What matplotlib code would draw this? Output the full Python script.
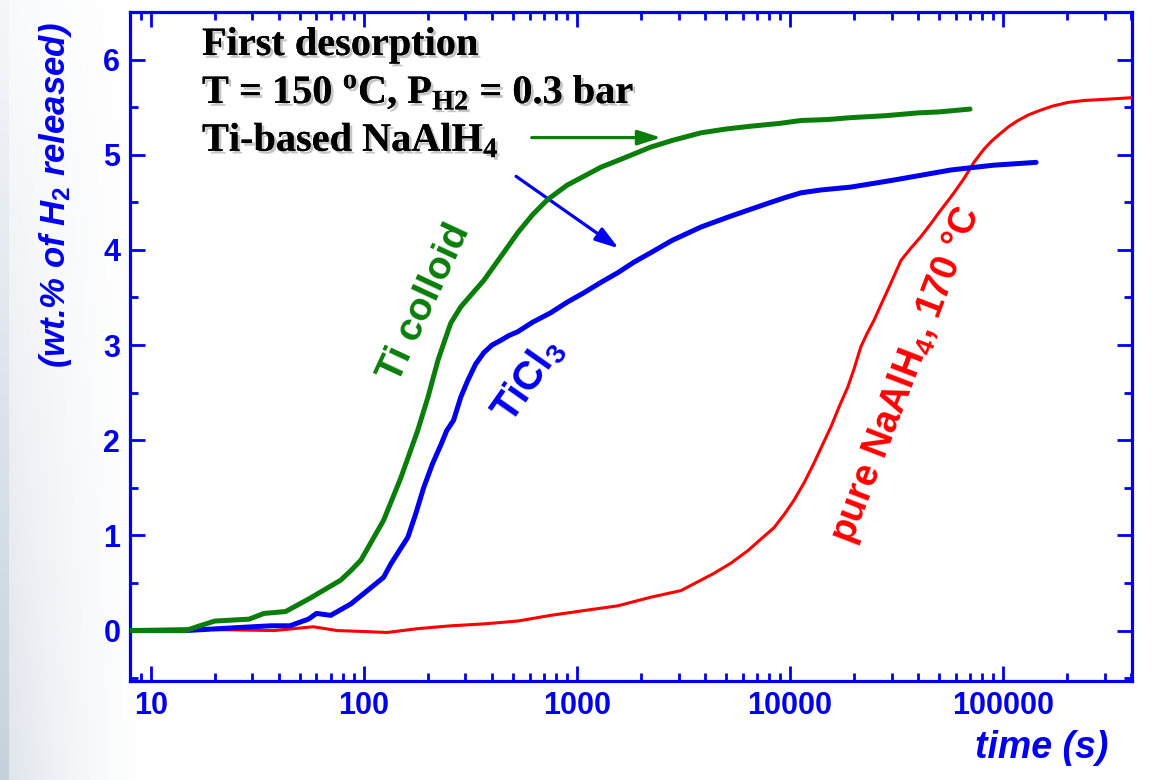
import numpy as np
import matplotlib
matplotlib.use("Agg")
import matplotlib.pyplot as plt
import matplotlib.patheffects as pe
from matplotlib.ticker import LogLocator, MultipleLocator, FixedLocator, NullFormatter

plt.rcParams['mathtext.fontset'] = 'custom'
plt.rcParams['mathtext.rm'] = 'Liberation Serif:bold'
plt.rcParams['mathtext.sf'] = 'Liberation Sans:bold'
plt.rcParams['mathtext.it'] = 'Liberation Sans:bold:italic'

BLUE = '#0000ee'
GREEN = '#0a7d0a'
RED = '#ff0000'

# desorption curves, time in s, wt.% H2
green_t = [8, 14.6, 17, 20, 29, 34, 43, 56, 78, 87, 97, 124, 149, 179, 200, 223, 240, 256, 285, 320,
           366, 440, 528, 620, 730, 900, 1300, 1600, 2220, 2800, 3820, 5000, 6560, 9000, 11270,
           15000, 19300, 28000, 40000, 50000, 70000]
green_y = [0, 0, 0.05, 0.1, 0.12, 0.18, 0.2, 0.34, 0.53, 0.63, 0.74, 1.16, 1.6, 2.1, 2.45, 2.84, 3.05, 3.23, 3.4, 3.53,
           3.68, 3.93, 4.18, 4.37, 4.53, 4.68, 4.87, 4.95, 5.08, 5.15, 5.23, 5.27, 5.3, 5.33, 5.36,
           5.37, 5.39, 5.41, 5.44, 5.45, 5.48]

blue_t = [8, 14.6, 25, 36.5, 45, 55, 60, 70, 87, 104, 124, 134, 161, 175, 191, 210, 230, 245, 264, 285,
          308, 335, 366, 400, 440, 480, 528, 620, 755, 900, 1080, 1300, 1556, 1850, 2220, 2800, 3820,
          5200, 7890, 9500, 11270, 14000, 19300, 30000, 57000, 90000, 143000]
blue_y = [0, 0, 0.03, 0.05, 0.05, 0.12, 0.18, 0.16, 0.28, 0.42, 0.56, 0.7, 0.98, 1.22, 1.5, 1.75, 1.95, 2.1, 2.21, 2.45,
          2.63, 2.8, 2.92, 3.0, 3.05, 3.1, 3.14, 3.24, 3.34, 3.45, 3.55, 3.66, 3.76, 3.87, 3.97, 4.1, 4.24,
          4.35, 4.49, 4.55, 4.6, 4.63, 4.66, 4.73, 4.84, 4.89, 4.92]

red_t = [8, 15, 20, 38, 58, 75, 100, 129, 179, 256, 366, 528, 755, 1080, 1556, 2220, 3080, 4390,
         5300, 6350, 7300, 8410, 9400, 10450, 11700, 12970, 14200, 15570, 17000, 18700, 20000, 21500,
         23000, 24800, 26700, 28800, 31000, 33200, 37000, 41200, 46000, 51100, 58000, 65600, 73000,
         81500, 89000, 98000, 107000, 117600, 132000, 150700, 170000, 201700, 240000, 288000, 407000]
red_y = [0.01, 0.02, 0.01, 0.0, 0.04, 0.0, -0.01, -0.02, 0.02, 0.05, 0.07, 0.1, 0.16, 0.21, 0.26, 0.35, 0.42, 0.60,
         0.71, 0.84, 0.96, 1.08, 1.22, 1.37, 1.56, 1.76, 1.95, 2.14, 2.35, 2.56, 2.75, 2.98,
         3.12, 3.26, 3.42, 3.58, 3.74, 3.89, 4.02, 4.14, 4.28, 4.42, 4.58, 4.75, 4.92,
         5.06, 5.15, 5.23, 5.30, 5.36, 5.42, 5.47, 5.51, 5.55, 5.57, 5.58, 5.6]

x_ticks = [10, 100, 1000, 10000, 100000]
x_ticklabels = ['10', '100', '1000', '10000', '100000']
y_ticks = [0, 1, 2, 3, 4, 5, 6]

fig = plt.figure(figsize=(11.61, 7.8), dpi=100)

# slide-style backdrop on the left edge
bg = fig.add_axes([0, 0, 1, 1], zorder=-10)
W, H = 1161, 780
xx = np.arange(W)[None, :]
yy = np.linspace(0, 1, H)[:, None]
edge = np.array([0.96, 0.97, 0.98])[None, None, :] * (1 - yy[..., None]) + \
       np.array([0.78, 0.82, 0.87])[None, None, :] * yy[..., None]
fade = np.clip(1 - (xx - 9) / 140.0, 0, 1)[..., None] ** 1.5
soft = 1 - (1 - edge) * 0.55
img = np.ones((H, W, 3)) * (1 - fade) + soft * fade
img[:, :9, :] = edge[:, 0, :][:, None, :]
bg.imshow(img, aspect='auto', extent=[0, 1, 0, 1])
bg.axis('off')

ax = fig.add_axes([130 / W, 1 - 681 / H, (1132 - 130) / W, (681 - 12) / H])
ax.patch.set_alpha(0)

ax.plot(red_t, red_y, color=RED, lw=2.2, zorder=3)
ax.plot(blue_t, blue_y, color=BLUE, lw=3.6, zorder=4, solid_capstyle='round', solid_joinstyle='round')
ax.plot(green_t, green_y, color=GREEN, lw=3.6, zorder=5, solid_capstyle='round', solid_joinstyle='round')

ax.set_xscale('log')
ax.set_xlim(8, 4.03e5)
ax.set_ylim(-0.53, 6.5)

ax.xaxis.set_major_locator(FixedLocator(x_ticks))
ax.set_xticklabels(x_ticklabels)
ax.xaxis.set_minor_locator(LogLocator(base=10, subs=np.arange(2, 10)))
ax.xaxis.set_minor_formatter(NullFormatter())
ax.set_yticks(y_ticks)
ax.yaxis.set_minor_locator(MultipleLocator(0.5))

for side in ax.spines.values():
    side.set_color(BLUE)
    side.set_linewidth(2.3)
ax.tick_params(which='both', direction='in', top=True, right=True, color=BLUE, width=2.0)
ax.tick_params(which='major', length=11, pad=7)
ax.tick_params(which='minor', length=6)
for lab in ax.get_xticklabels() + ax.get_yticklabels():
    lab.set_fontfamily('Liberation Sans')
    lab.set_fontweight('bold')
    lab.set_fontsize(22)
    lab.set_color(BLUE)

fig.text(56 / W, 1 - 195 / H, r'(wt.% of $\mathit{H}_{\mathsf{2}}$ released)', rotation=90,
         ha='center', va='center', family='Liberation Sans', style='italic', weight='bold',
         fontsize=25, color=BLUE)
fig.text(1042 / W, 1 - 748 / H, 'time (s)', ha='center', va='center',
         family='Liberation Sans', style='italic', weight='bold', fontsize=27, color=BLUE)

# header block with drop shadow
shadow = [pe.withSimplePatchShadow(offset=(2, -2), shadow_rgbFace='0.55', alpha=0.5), pe.Normal()]
head = dict(family='Liberation Serif', weight='bold', fontsize=29, color='black',
            ha='left', va='baseline', path_effects=shadow)
fig.text(202 / W, 1 - 55 / H, 'First desorption', **head)
fig.text(202 / W, 1 - 103 / H, r'T = 150 $^{\rm o}$C, P$_{\rm H2}$ = 0.3 bar', **head)
fig.text(202 / W, 1 - 151 / H, r'Ti-based NaAlH$_{\rm 4}$', **head)

# arrows from the header to the doped curves
ax.annotate('', xy=(2560, 5.18), xytext=(596, 5.18),
            arrowprops=dict(arrowstyle='-|>,head_length=1.4,head_width=0.45', color=GREEN, lw=2.3))
ax.annotate('', xy=(1610, 4.0), xytext=(506, 4.79),
            arrowprops=dict(arrowstyle='-|>,head_length=1.4,head_width=0.45', color=BLUE, lw=2.3))

lab = dict(family='Liberation Sans', weight='bold', ha='center', va='center',
           rotation_mode='anchor')
ax.text(193, 3.44, 'Ti colloid', color=GREEN, rotation=65, fontsize=28, **lab)
ax.text(589, 2.63, r'TiCl$_{\mathsf{3}}$', color=BLUE, rotation=55, fontsize=29, **lab)
ax.text(35100, 2.68, r'pure NaAlH$_{\mathsf{4}}$, 170 °C', color=RED, rotation=69, fontsize=27, **lab)

fig.savefig('out.png', dpi=100)
